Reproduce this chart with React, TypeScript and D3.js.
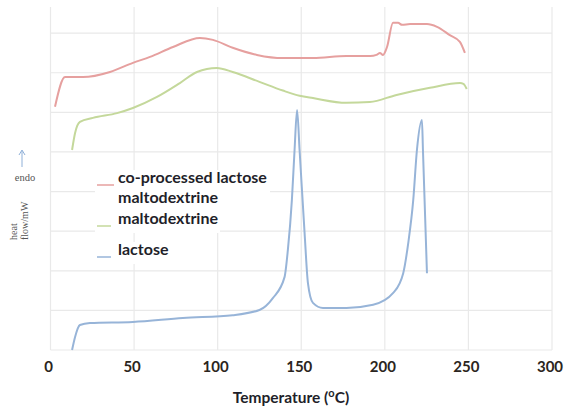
import React from 'react'
import * as d3 from 'd3'

// temperature (°C) and heat flow (arbitrary, grid units)
const coProcessedT = [2.7, 8.7, 19.4, 35.6, 49.3, 59.5, 73.3, 89.4, 97.2, 109, 123.5, 139, 149, 157, 177, 191.2, 195, 197.1, 198.9, 201.3, 204.9, 207.9, 210.3, 215.1, 225.2, 231.2, 238.9, 244.9, 247.9]
const coProcessedV = [6.14, 6.89, 6.89, 7.02, 7.25, 7.4, 7.65, 7.88, 7.83, 7.63, 7.45, 7.37, 7.37, 7.37, 7.42, 7.42, 7.45, 7.5, 7.45, 7.65, 8.26, 8.26, 8.21, 8.23, 8.23, 8.16, 7.95, 7.78, 7.5]

const maltoT = [12.9, 14.7, 17.6, 25.4, 39.8, 49.3, 63.7, 77.4, 87.6, 99.5, 109, 125, 139, 149, 157, 177, 191, 207, 227, 245, 247, 249]
const maltoV = [5.05, 5.48, 5.76, 5.86, 5.98, 6.11, 6.39, 6.74, 7.02, 7.12, 7.02, 6.77, 6.55, 6.42, 6.36, 6.24, 6.26, 6.44, 6.62, 6.74, 6.72, 6.59]

const lactoseT = [12.9, 14.7, 17.6, 23.6, 49.3, 79.2, 109, 125, 133, 140, 142, 144.4, 146, 147.5, 149, 152, 154, 157, 163, 177, 193, 205, 211, 214, 217, 219.2, 222.2, 222.8, 225.2]
const lactoseV = [0, 0.33, 0.63, 0.68, 0.71, 0.81, 0.88, 1.01, 1.31, 1.84, 2.53, 3.79, 5.05, 6.06, 5.05, 2.95, 1.69, 1.19, 1.06, 1.06, 1.14, 1.44, 1.94, 2.7, 3.79, 5.05, 5.81, 5.05, 1.94]

const xTicks = [0, 50, 100, 150, 200, 250, 300]
const yGrid = [0, 1, 2, 3, 4, 5, 6, 7, 8]

const seriesNames = ['co-processed lactose', 'maltodextrine', 'lactose']
const seriesColors = ['#e6a09f', '#c4d89b', '#97b4d8']

const font = 'Lato, "Noto Sans", sans-serif'

const App = () => {
  const x = d3.scaleLinear().domain([0, 300]).range([50.5, 552])
  const y = d3.scaleLinear().domain([0, 8.66]).range([350, 7])

  const line = d3.line<[number, number]>()
    .x(d => x(d[0]))
    .y(d => y(d[1]))
    .curve(d3.curveMonotoneX)

  const series = [
    d3.zip(coProcessedT, coProcessedV) as [number, number][],
    d3.zip(maltoT, maltoV) as [number, number][],
    d3.zip(lactoseT, lactoseV) as [number, number][],
  ]

  // legend rows: first label wraps onto two lines
  const legendRows = [
    { lines: [seriesNames[0], 'maltodextrine'], y: 183, w: 175 },
    { lines: [seriesNames[1]], y: 224, w: 125 },
    { lines: [seriesNames[2]], y: 255, w: 78 },
  ]

  return (
    <svg width={567} height={408} style={{ position: 'absolute', left: 0, top: 0, background: '#fff' }}>
      {/* grid */}
      <g stroke="#e9e9e9" strokeWidth={1.2}>
        {xTicks.map(t => (
          <line key={'v' + t} x1={x(t)} x2={x(t)} y1={7} y2={350} />
        ))}
        {yGrid.map(v => (
          <line key={'h' + v} x1={x(0)} x2={x(300)} y1={y(v)} y2={y(v)} />
        ))}
      </g>

      {series.map((s, i) => (
        <path key={i} d={line(s) || ''} fill="none" stroke={seriesColors[i]} strokeWidth={2} />
      ))}

      {/* legend */}
      {legendRows.map((r, i) => (
        <g key={i}>
          <rect x={95} y={r.y - 13} width={r.w} height={r.lines.length * 20 + 2} fill="#fff" />
          <line x1={97} x2={i === 0 ? 114 : 111} y1={r.y + 2} y2={r.y + 2} stroke={seriesColors[i]} strokeWidth={1.5} />
          <text x={118} y={r.y} fontFamily={font} fontWeight={700} fontSize={16} fill="#1f1f2a">
            {r.lines.map((l, j) => (
              <tspan key={j} x={118} dy={j === 0 ? 0 : 20}>{l}</tspan>
            ))}
          </text>
        </g>
      ))}

      {/* x tick labels */}
      {xTicks.map(t => (
        <text key={'t' + t} x={x(t) - 2} y={372} textAnchor="middle" fontFamily={font} fontWeight={700} fontSize={15} fill="#2b2520">
          {t}
        </text>
      ))}

      {/* x title */}
      <text x={291} y={403} textAnchor="middle" fontFamily={font} fontWeight={700} fontSize={15.5} fill="#1f1f2a">
        Temperature (<tspan fontSize={11} dy={-6}>o</tspan><tspan dy={6}>C)</tspan>
      </text>

      {/* y label */}
      <line x1={22} x2={22} y1={167} y2={151} stroke="#8fb0d8" strokeWidth={1} />
      <path d="M19,155 L22,150 L25,155" fill="none" stroke="#8fb0d8" strokeWidth={1} />
      <text x={25} y={181} textAnchor="middle" fontFamily="'Liberation Serif', serif" fontSize={10.5} fill="#555">endo</text>
      <text transform="translate(17,240) rotate(-90)" fontFamily="'Liberation Serif', serif" fontSize={10} fill="#555">heat</text>
      <text transform="translate(28,240) rotate(-90)" fontFamily="'Liberation Serif', serif" fontSize={10} fill="#555">flow/mW</text>
    </svg>
  )
}

export default App
